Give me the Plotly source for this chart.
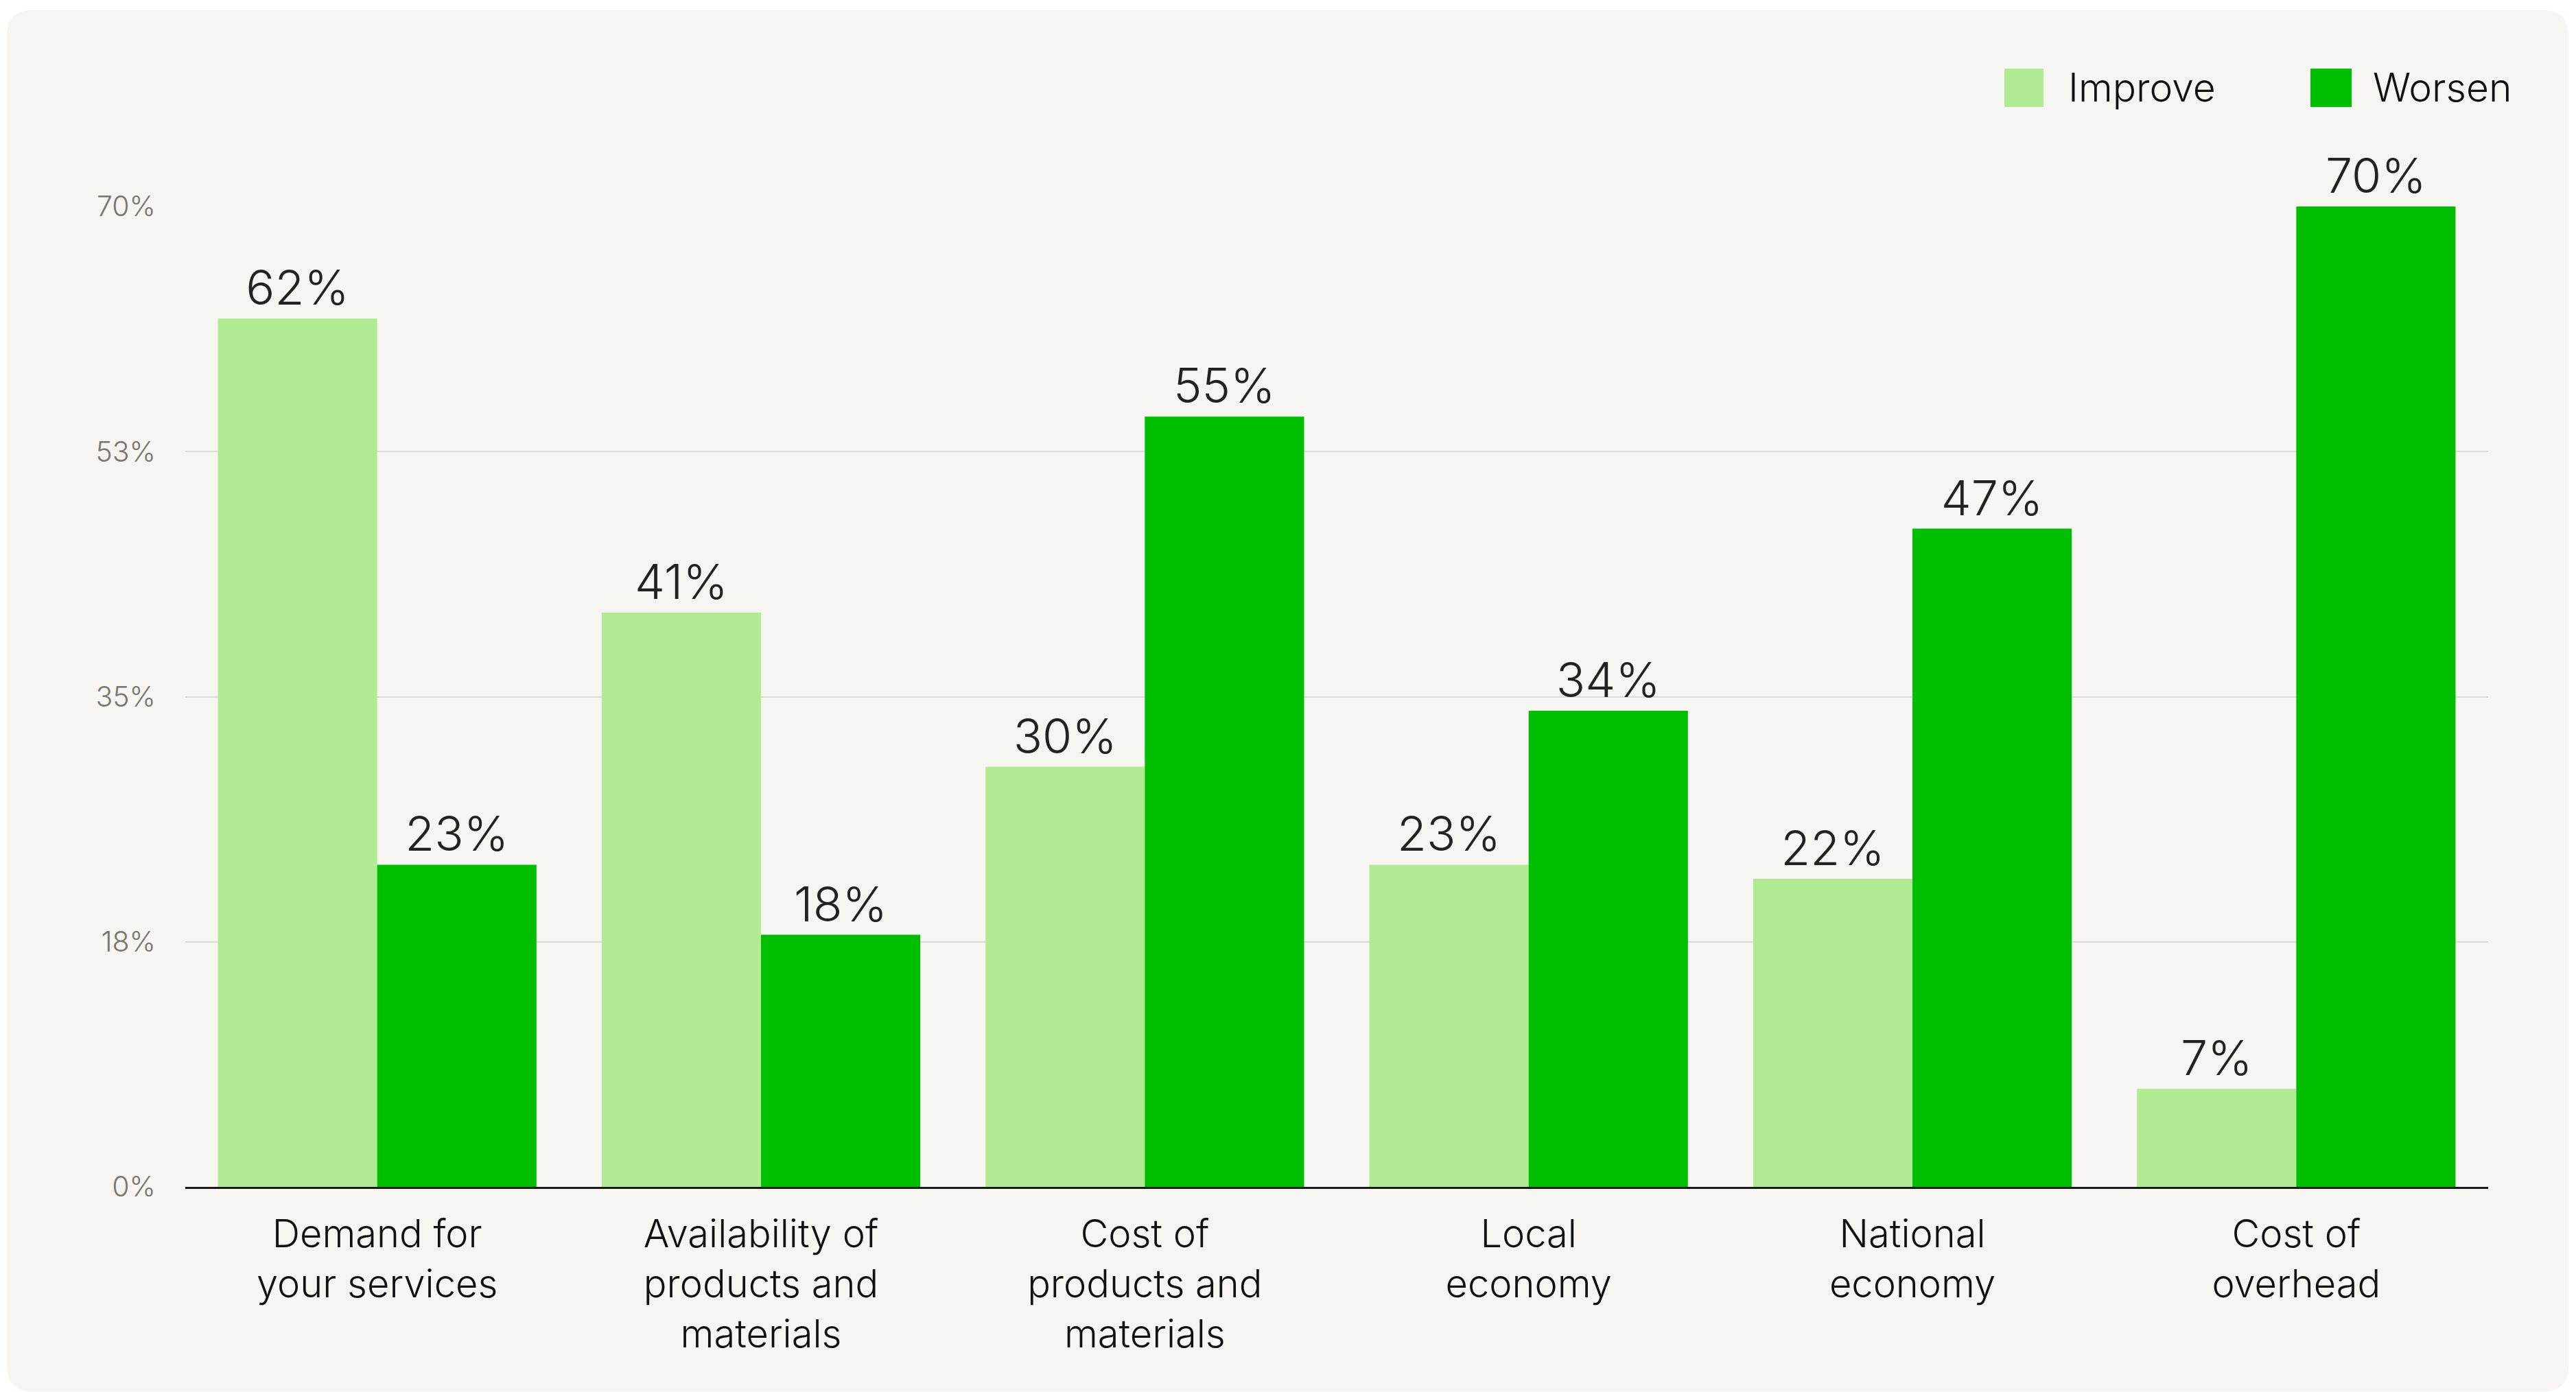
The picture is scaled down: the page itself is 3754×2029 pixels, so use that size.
import plotly.graph_objects as go

# Survey results: expected change over the next period
categories = [
    "Demand for<br>your services",
    "Availability of<br>products and<br>materials",
    "Cost of<br>products and<br>materials",
    "Local<br>economy",
    "National<br>economy",
    "Cost of<br>overhead",
]
improve = [62, 41, 30, 23, 22, 7]
worsen = [23, 18, 55, 34, 47, 70]

tick_vals = [0, 17.5, 35, 52.5, 70]
tick_text = ["0%", "18%", "35%", "53%", "70%"]

series_names = ["Improve", "Worsen"]
series_colors = ["#b0eb92", "#00bf00"]

W, H = 3754, 2029
M_L, M_R, M_T, M_B = 270, 128, 301, 299
PW, PH = W - M_L - M_R, H - M_T - M_B
FONT = "Inter, 'Open Sans', sans-serif"
WEIGHT = 300


def px_x(x):
    return (x - M_L) / PW


def px_y(y):
    return (H - M_B - y) / PH


fig = go.Figure()
for name, vals, col in zip(series_names, [improve, worsen], series_colors):
    fig.add_trace(go.Bar(
        name=name,
        x=categories,
        y=vals,
        text=[f"{v}%" for v in vals],
        texttemplate="%{text}",
        marker=dict(color=col, line=dict(width=0)),
        textposition="outside",
        textfont=dict(family=FONT, size=70, color="#222222", weight=WEIGHT),
        constraintext="none",
        cliponaxis=False,
        hoverinfo="skip",
    ))

# Rounded card behind the chart
x0, x1 = px_x(10), px_x(3743)
y0, y1 = px_y(2028), px_y(15)
rx, ry = 36 / PW, 36 / PH
card = (
    f"M{x0 + rx},{y1} L{x1 - rx},{y1} Q{x1},{y1} {x1},{y1 - ry} "
    f"L{x1},{y0 + ry} Q{x1},{y0} {x1 - rx},{y0} "
    f"L{x0 + rx},{y0} Q{x0},{y0} {x0},{y0 + ry} "
    f"L{x0},{y1 - ry} Q{x0},{y1} {x0 + rx},{y1} Z"
)
shapes = [dict(type="path", xref="paper", yref="paper", path=card,
               fillcolor="#f6f5f1", line=dict(width=0), layer="below")]

# Custom legend: swatches and labels at the top right
annotations = []
legend_items = [(2921, 2978, 3012), (3367, 3427, 3456)]
for (sx0, sx1, tx), name, col in zip(legend_items, series_names, series_colors):
    shapes.append(dict(type="rect", xref="paper", yref="paper",
                       x0=px_x(sx0), x1=px_x(sx1), y0=px_y(156), y1=px_y(100),
                       fillcolor=col, line=dict(width=0)))
    annotations.append(dict(xref="paper", yref="paper", x=px_x(tx), y=px_y(127),
                            xanchor="left", yanchor="middle", showarrow=False,
                            text=name,
                            font=dict(family=FONT, size=57, color="#111111", weight=WEIGHT)))

fig.update_layout(
    width=W, height=H,
    margin=dict(l=M_L, r=M_R, t=M_T, b=M_B, pad=0),
    paper_bgcolor="#ffffff",
    plot_bgcolor="rgba(0,0,0,0)",
    barmode="group",
    bargap=0.17,
    bargroupgap=0,
    showlegend=False,
    shapes=shapes,
    annotations=annotations,
    font=dict(family=FONT),
)
fig.update_yaxes(
    range=[0, 70],
    tickvals=tick_vals,
    ticktext=tick_text,
    tickfont=dict(family=FONT, size=41, color="#77776f", weight=WEIGHT),
    ticklabelstandoff=42,
    showgrid=True,
    gridcolor="#dcdad5",
    gridwidth=2,
    zeroline=False,
    showline=False,
    fixedrange=True,
)
fig.update_xaxes(
    tickfont=dict(family=FONT, size=56, color="#111111", weight=WEIGHT),
    ticklabelstandoff=18,
    showline=True,
    linecolor="#1a1a1a",
    linewidth=3,
    showgrid=False,
    fixedrange=True,
)

fig.write_html("out.html")
